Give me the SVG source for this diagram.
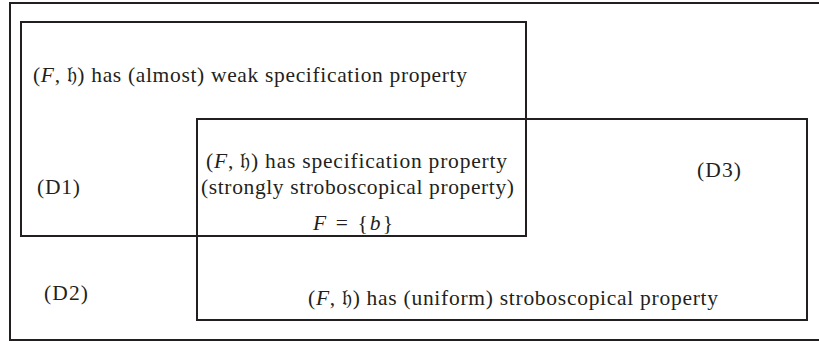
<svg xmlns="http://www.w3.org/2000/svg" width="819" height="341" viewBox="0 0 819 341">
<style>
.box{fill:none;stroke:#231f20;stroke-width:2}
.t{font-family:"Liberation Serif","DejaVu Serif",serif;font-size:21.5px;fill:#231f20}
.i{font-style:italic}
</style>
<rect width="819" height="341" fill="#ffffff"/>
<g id="frame"><rect class="box" x="10" y="3" width="815" height="337"/></g>
<g id="D1">
<rect class="box" x="21" y="22" width="505" height="214"/>
<text class="t" x="33" y="82" textLength="434">(<tspan class="i">F</tspan>, 𝔥) has (almost) weak specification property</text>
<text class="t" x="37" y="194" textLength="43">(D1)</text>
</g>
<g id="D3">
<rect class="box" x="197" y="119" width="610" height="201"/>
<text class="t" x="697" y="177" textLength="44">(D3)</text>
<text class="t" x="308" y="305" textLength="410">(<tspan class="i">F</tspan>, 𝔥) has (uniform) stroboscopical property</text>
</g>
<g id="center">
<text class="t" x="206" y="168" textLength="301">(<tspan class="i">F</tspan>, 𝔥) has specification property</text>
<text class="t" x="201" y="194" textLength="313">(strongly stroboscopical property)</text>
<text class="t" x="313" y="230" textLength="80"><tspan class="i">F</tspan> = {<tspan class="i">b</tspan>}</text>
</g>
<g id="D2">
<text class="t" x="44" y="300" textLength="44">(D2)</text>
</g>
<g id="connectors"/>
</svg>
